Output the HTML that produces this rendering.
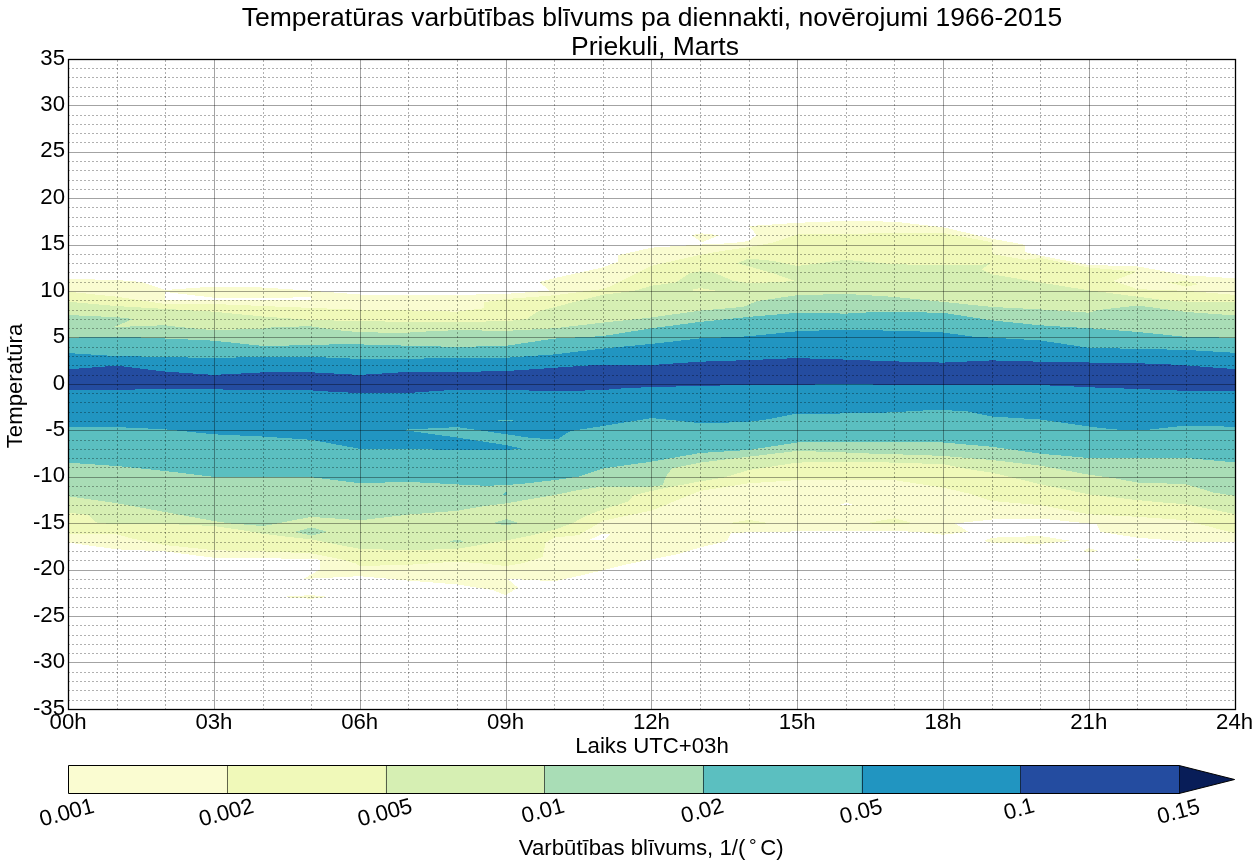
<!DOCTYPE html>
<html lang="lv">
<head>
<meta charset="utf-8">
<title>Temperatūras varbūtības blīvums pa diennakti</title>
<style>
html,body{margin:0;padding:0;background:#fff;}
body{width:1260px;height:868px;overflow:hidden;font-family:"Liberation Sans",sans-serif;}
svg{display:block;will-change:transform;}
text{font-family:"Liberation Sans",sans-serif;fill:#000;}
.ttl{font-size:26.5px;}
.tk{font-size:22.2px;}
.lab{font-size:22.2px;}
.cbt{font-size:22.2px;}
.maj{stroke:#000;stroke-opacity:0.36;stroke-width:1;}
.min{stroke:#000;stroke-opacity:0.31;stroke-width:1;stroke-dasharray:2 2;}
</style>
</head>
<body>
<svg width="1260" height="868" viewBox="0 0 1260 868">
<rect width="1260" height="868" fill="#ffffff"/>
<text x="652" y="26" text-anchor="middle" class="ttl">Temperatūras varbūtības blīvums pa diennakti, novērojumi 1966-2015</text>
<text x="655" y="54.5" text-anchor="middle" class="ttl">Priekuli, Marts</text>
<g shape-rendering="crispEdges">
<path d="M68.0 278.9 L116.7 280.0 L141.1 281.9 L165.3 290.0 L213.9 286.5 L262.5 287.5 L311.1 290.7 L359.7 294.5 L408.3 294.5 L456.9 294.9 L505.5 293.9 L529.4 292.2 L549.4 290.6 L539.4 282.0 L554.1 278.2 L602.8 267.4 L618.0 261.7 L618.0 255.3 L651.4 247.7 L672.0 246.4 L700.0 244.6 L722.6 243.6 L743.2 242.0 L749.4 240.5 L756.5 235.2 L749.1 226.0 L797.2 222.8 L845.8 220.9 L894.4 221.7 L943.0 227.2 L991.6 238.6 L1024.9 244.8 L1024.9 252.0 L1040.2 255.6 L1088.8 265.0 L1137.4 266.3 L1186.0 275.3 L1235.5 278.3 L1235.5 541.9 L1186.0 541.5 L1137.4 537.7 L1100.2 531.9 L1096.8 524.3 L1088.8 523.5 L1040.2 518.5 L991.6 519.5 L955.3 523.5 L968.6 531.9 L943.0 534.7 L918.5 531.9 L894.4 531.0 L845.8 531.4 L797.2 531.4 L748.6 532.2 L731.0 533.5 L727.1 541.1 L700.0 547.5 L678.9 553.8 L651.4 559.5 L628.1 564.0 L602.8 570.3 L572.0 577.5 L554.1 581.3 L507.2 578.7 L518.0 587.6 L505.5 595.2 L493.3 590.2 L456.9 584.4 L408.3 580.6 L381.2 578.1 L359.7 576.2 L303.5 579.0 L320.2 569.2 L320.2 559.7 L311.1 559.0 L262.5 558.2 L213.9 557.8 L165.3 551.4 L116.7 549.3 L68.0 542.6Z" fill="#fafcd1"/>
<path d="M165.3 292.0 L213.9 297.7 L262.5 297.7 L311.1 297.4 L311.1 300.0 L262.5 300.0 L213.9 300.0 L165.3 300.0Z" fill="#ffffff"/>
<path d="M691.6 235.3 L700.6 233.3 L719.5 235.1 L701.9 242.3Z" fill="#fafcd1"/>
<path d="M590.0 539.6 L603.6 533.5 L611.0 533.5 L603.6 540.5Z" fill="#ffffff"/>
<path d="M839.6 504.3 L846.6 503.1 L852.5 504.3 L846.6 505.5Z" fill="#ffffff"/>
<path d="M983.7 541.1 L991.6 537.7 L1040.2 536.0 L1071.8 541.0 L1040.2 543.9 L991.6 542.7Z" fill="#fafcd1"/>
<path d="M280.1 596.9 L311.6 595.1 L328.5 596.9 L311.6 598.8Z" fill="#fafcd1"/>
<path d="M1082.6 551.1 L1088.8 548.2 L1099.3 551.1 L1088.8 552.2Z" fill="#fafcd1"/>
<path d="M1134.4 559.9 L1137.4 558.6 L1141.1 559.9 L1137.4 560.8Z" fill="#fafcd1"/>
<path d="M68.0 291.7 L116.7 296.7 L165.3 304.0 L213.9 304.0 L262.5 306.0 L311.1 307.9 L359.7 309.8 L408.3 310.4 L456.9 311.7 L483.9 308.3 L483.9 302.2 L505.5 299.1 L554.1 295.3 L602.8 289.0 L608.5 287.1 L651.4 265.8 L681.3 259.1 L700.0 254.9 L722.6 250.8 L748.6 247.2 L773.3 242.5 L797.2 234.5 L845.8 233.6 L894.4 233.4 L916.9 232.6 L943.0 232.9 L991.6 242.2 L991.6 245.8 L992.6 254.1 L1024.9 259.7 L1040.2 258.0 L1088.8 267.5 L1137.4 271.7 L1113.3 280.8 L1137.4 289.2 L1186.0 290.8 L1235.5 295.0 L1235.5 533.5 L1203.7 525.2 L1186.0 520.2 L1137.4 516.8 L1088.8 514.3 L1040.2 505.1 L991.6 501.0 L968.6 493.5 L943.0 487.6 L894.4 480.1 L845.8 480.1 L797.2 480.1 L748.6 483.3 L700.0 491.0 L651.4 510.6 L602.8 520.8 L578.6 535.2 L554.1 537.5 L545.3 543.2 L542.8 557.1 L521.2 563.5 L505.5 566.0 L483.1 563.5 L456.9 561.6 L408.3 564.8 L359.7 566.0 L355.8 563.5 L343.1 559.7 L311.1 553.3 L262.5 551.4 L213.9 550.2 L165.3 545.1 L132.2 538.5 L116.7 534.4 L68.0 533.9Z" fill="#f0f9b9"/>
<path d="M1168.3 282.5 L1185.8 280.8 L1198.3 284.2 L1185.8 286.7Z" fill="#f0f9b9"/>
<path d="M726.9 523.4 L749.4 519.9 L770.3 523.4 L749.4 523.9Z" fill="#f0f9b9"/>
<path d="M865.1 523.4 L894.6 518.2 L913.5 523.4 L894.6 523.9Z" fill="#f0f9b9"/>
<path d="M68.0 301.7 L116.7 306.1 L165.3 308.9 L213.9 311.7 L262.5 316.5 L311.1 319.9 L359.7 321.2 L408.3 321.8 L456.9 321.8 L505.5 321.3 L527.2 318.9 L537.2 311.7 L554.1 307.2 L602.8 294.7 L633.9 290.9 L651.4 285.8 L676.1 282.3 L689.5 273.5 L700.0 271.4 L712.2 272.0 L732.9 280.7 L748.6 283.3 L773.6 282.2 L795.4 281.0 L773.6 273.5 L748.6 266.3 L737.0 263.2 L748.6 258.5 L773.6 261.0 L797.2 266.0 L845.8 259.8 L894.4 264.3 L943.0 265.1 L980.3 265.1 L991.2 262.6 L982.0 269.3 L991.6 274.3 L1040.2 282.5 L1088.8 290.3 L1137.4 296.7 L1163.3 300.0 L1186.0 301.7 L1235.5 301.7 L1235.5 514.3 L1186.0 504.3 L1163.6 502.6 L1137.4 500.1 L1088.8 494.3 L1040.2 484.2 L991.6 472.6 L968.6 469.2 L943.0 464.2 L894.4 462.6 L845.8 461.7 L797.2 462.6 L748.6 470.1 L723.5 477.6 L700.0 481.4 L666.2 487.8 L651.4 491.0 L633.2 495.4 L631.9 497.3 L628.1 501.7 L602.8 509.4 L584.7 516.5 L572.0 523.5 L554.1 529.8 L533.9 534.9 L505.5 540.6 L483.1 544.4 L456.9 548.9 L408.3 550.2 L359.7 548.9 L330.4 543.2 L311.1 539.4 L287.0 536.8 L262.5 533.7 L236.2 529.2 L213.9 526.0 L165.3 523.9 L116.7 524.1 L97.2 523.0 L87.9 514.8 L68.0 512.7Z" fill="#d6efb3"/>
<path d="M689.5 290.2 L700.6 288.0 L717.4 291.0 L700.6 291.3Z" fill="#f0f9b9"/>
<path d="M68.0 315.0 L116.7 317.2 L133.3 318.9 L113.3 327.2 L116.7 327.0 L165.3 325.2 L172.7 326.3 L204.4 329.4 L213.9 330.1 L262.5 328.8 L274.3 326.9 L311.1 326.3 L336.7 330.1 L359.7 332.2 L408.3 333.0 L410.4 332.2 L456.9 330.1 L505.5 330.9 L554.1 328.3 L602.8 322.6 L651.4 317.5 L700.0 310.6 L743.6 306.9 L756.9 301.1 L797.2 295.2 L845.8 293.9 L894.4 296.9 L943.0 301.9 L991.6 306.9 L1040.2 309.4 L1088.8 312.7 L1096.8 310.2 L1137.4 305.5 L1186.0 311.9 L1235.5 315.5 L1235.5 495.9 L1213.8 492.6 L1186.0 484.2 L1163.6 483.4 L1137.4 482.6 L1113.5 478.1 L1088.8 474.7 L1040.2 465.6 L991.6 460.0 L943.0 455.9 L894.4 454.2 L865.1 453.4 L845.8 452.5 L797.2 450.9 L748.6 456.7 L700.0 462.6 L671.7 468.4 L666.2 476.3 L662.4 485.2 L651.4 486.8 L602.8 486.5 L578.6 490.0 L554.1 495.1 L505.5 503.4 L483.1 506.3 L456.9 510.8 L408.3 514.6 L381.2 517.8 L359.7 520.3 L343.1 519.0 L311.1 516.9 L293.3 520.3 L274.3 524.1 L262.5 526.0 L231.1 523.5 L213.9 521.0 L165.3 512.1 L116.7 503.2 L68.0 496.2Z" fill="#a9ddb6"/>
<path d="M294.8 531.8 L311.6 527.4 L327.2 531.8 L311.6 535.6Z" fill="#a9ddb6"/>
<path d="M448.8 541.3 L457.4 539.6 L464.0 541.3 L457.4 542.8Z" fill="#a9ddb6"/>
<path d="M493.3 523.1 L506.6 519.0 L518.7 523.1 L506.6 525.4Z" fill="#a9ddb6"/>
<path d="M502.6 494.9 L506.5 491.6 L507.1 494.9Z" fill="#5bbfc0"/>
<path d="M68.0 337.8 L116.7 336.5 L165.3 338.5 L213.9 340.7 L262.5 345.9 L311.1 345.2 L341.9 344.0 L359.7 344.4 L408.3 345.7 L456.9 346.9 L505.5 345.9 L554.1 338.6 L602.8 336.1 L651.4 328.3 L700.0 321.9 L748.6 316.9 L797.2 312.8 L845.8 313.6 L876.8 311.9 L894.4 311.9 L943.0 312.8 L991.6 320.3 L1040.2 325.3 L1088.8 328.2 L1137.4 331.9 L1186.0 336.9 L1235.5 337.8 L1235.5 462.5 L1186.0 458.0 L1137.4 458.0 L1088.8 458.0 L1040.2 453.7 L991.6 446.7 L943.0 442.5 L894.4 441.7 L845.8 441.7 L797.2 442.5 L748.6 450.0 L700.0 453.0 L651.4 461.7 L602.8 468.5 L578.6 476.6 L554.1 480.2 L516.8 484.4 L505.5 484.7 L488.4 485.9 L456.9 484.4 L408.3 481.9 L359.7 483.2 L311.1 477.2 L262.5 477.2 L213.9 476.9 L165.3 471.0 L116.7 466.0 L68.0 462.7Z" fill="#5bbfc0"/>
<path d="M68.0 353.1 L116.7 356.1 L165.3 356.9 L213.9 358.2 L262.5 356.7 L311.1 356.9 L359.7 358.9 L408.3 358.9 L456.9 357.7 L505.5 357.8 L554.1 354.4 L602.8 348.6 L651.4 343.9 L700.0 338.4 L748.6 336.3 L797.2 331.3 L845.8 329.5 L894.4 330.8 L926.9 331.7 L943.0 332.5 L973.7 336.7 L991.6 337.7 L1040.2 340.4 L1088.8 347.8 L1137.4 348.9 L1186.0 349.9 L1235.5 352.8 L1235.5 426.8 L1186.0 425.5 L1146.9 429.9 L1137.4 430.2 L1113.5 429.4 L1088.8 426.5 L1040.2 419.5 L991.6 416.5 L965.3 411.0 L943.0 410.2 L928.6 410.2 L894.4 412.2 L865.1 413.5 L845.8 413.2 L823.8 414.4 L797.2 413.5 L767.0 419.4 L748.6 421.9 L723.5 422.7 L700.0 423.2 L673.4 420.2 L651.4 418.1 L603.7 425.9 L570.3 431.0 L558.6 438.5 L554.8 439.6 L528.5 437.6 L506.5 434.3 L478.4 430.1 L457.5 427.1 L401.2 429.8 L433.8 434.3 L457.5 437.6 L506.5 445.2 L521.0 448.5 L505.5 450.2 L456.9 450.2 L408.3 448.8 L359.7 448.8 L311.1 439.8 L262.5 436.5 L213.9 434.3 L165.3 429.3 L116.7 427.1 L68.0 426.8Z" fill="#2195c1"/>
<path d="M496.8 420.6 L506.5 419.8 L513.5 420.6 L506.5 421.4Z" fill="#5bbfc0"/>
<path d="M68.0 369.4 L116.7 365.6 L165.3 371.6 L213.9 374.9 L262.5 372.4 L311.1 372.3 L359.7 374.9 L408.3 371.9 L456.9 371.9 L505.5 371.1 L554.1 367.8 L602.8 364.5 L651.4 365.0 L700.0 361.7 L748.6 360.1 L797.2 358.1 L845.8 359.6 L894.4 361.4 L943.0 362.6 L991.6 360.4 L1040.2 361.7 L1088.8 362.5 L1137.4 363.4 L1157.0 363.7 L1186.0 365.4 L1235.5 369.2 L1235.5 390.6 L1186.0 390.6 L1167.0 390.4 L1137.4 388.8 L1105.2 388.1 L1088.8 387.1 L1058.4 385.9 L1040.2 385.0 L991.6 384.5 L943.0 384.5 L894.4 384.5 L873.4 384.5 L845.8 383.5 L797.2 385.1 L748.6 384.8 L700.0 386.0 L651.4 387.0 L622.1 388.4 L602.8 390.0 L554.1 391.4 L505.5 389.7 L456.9 389.7 L437.5 390.9 L408.3 393.0 L359.7 393.0 L335.4 392.0 L311.1 390.4 L262.5 390.4 L247.9 390.4 L213.9 389.2 L165.3 389.2 L116.7 389.7 L68.0 390.4Z" fill="#244ca0"/>
</g>
<g fill="none" shape-rendering="crispEdges">
<line x1="68.0" x2="1235.5" y1="700.5" y2="700.5" class="min"/>
<line x1="68.0" x2="1235.5" y1="690.5" y2="690.5" class="min"/>
<line x1="68.0" x2="1235.5" y1="681.5" y2="681.5" class="min"/>
<line x1="68.0" x2="1235.5" y1="672.5" y2="672.5" class="min"/>
<line x1="68.0" x2="1235.5" y1="662.5" y2="662.5" class="maj"/>
<line x1="68.0" x2="1235.5" y1="653.5" y2="653.5" class="min"/>
<line x1="68.0" x2="1235.5" y1="644.5" y2="644.5" class="min"/>
<line x1="68.0" x2="1235.5" y1="635.5" y2="635.5" class="min"/>
<line x1="68.0" x2="1235.5" y1="625.5" y2="625.5" class="min"/>
<line x1="68.0" x2="1235.5" y1="616.5" y2="616.5" class="maj"/>
<line x1="68.0" x2="1235.5" y1="607.5" y2="607.5" class="min"/>
<line x1="68.0" x2="1235.5" y1="597.5" y2="597.5" class="min"/>
<line x1="68.0" x2="1235.5" y1="588.5" y2="588.5" class="min"/>
<line x1="68.0" x2="1235.5" y1="579.5" y2="579.5" class="min"/>
<line x1="68.0" x2="1235.5" y1="570.5" y2="570.5" class="maj"/>
<line x1="68.0" x2="1235.5" y1="560.5" y2="560.5" class="min"/>
<line x1="68.0" x2="1235.5" y1="551.5" y2="551.5" class="min"/>
<line x1="68.0" x2="1235.5" y1="542.5" y2="542.5" class="min"/>
<line x1="68.0" x2="1235.5" y1="532.5" y2="532.5" class="min"/>
<line x1="68.0" x2="1235.5" y1="523.5" y2="523.5" class="maj"/>
<line x1="68.0" x2="1235.5" y1="514.5" y2="514.5" class="min"/>
<line x1="68.0" x2="1235.5" y1="505.5" y2="505.5" class="min"/>
<line x1="68.0" x2="1235.5" y1="495.5" y2="495.5" class="min"/>
<line x1="68.0" x2="1235.5" y1="486.5" y2="486.5" class="min"/>
<line x1="68.0" x2="1235.5" y1="477.5" y2="477.5" class="maj"/>
<line x1="68.0" x2="1235.5" y1="467.5" y2="467.5" class="min"/>
<line x1="68.0" x2="1235.5" y1="458.5" y2="458.5" class="min"/>
<line x1="68.0" x2="1235.5" y1="449.5" y2="449.5" class="min"/>
<line x1="68.0" x2="1235.5" y1="440.5" y2="440.5" class="min"/>
<line x1="68.0" x2="1235.5" y1="430.5" y2="430.5" class="maj"/>
<line x1="68.0" x2="1235.5" y1="421.5" y2="421.5" class="min"/>
<line x1="68.0" x2="1235.5" y1="412.5" y2="412.5" class="min"/>
<line x1="68.0" x2="1235.5" y1="402.5" y2="402.5" class="min"/>
<line x1="68.0" x2="1235.5" y1="393.5" y2="393.5" class="min"/>
<line x1="68.0" x2="1235.5" y1="384.5" y2="384.5" class="maj"/>
<line x1="68.0" x2="1235.5" y1="375.5" y2="375.5" class="min"/>
<line x1="68.0" x2="1235.5" y1="365.5" y2="365.5" class="min"/>
<line x1="68.0" x2="1235.5" y1="356.5" y2="356.5" class="min"/>
<line x1="68.0" x2="1235.5" y1="347.5" y2="347.5" class="min"/>
<line x1="68.0" x2="1235.5" y1="337.5" y2="337.5" class="maj"/>
<line x1="68.0" x2="1235.5" y1="328.5" y2="328.5" class="min"/>
<line x1="68.0" x2="1235.5" y1="319.5" y2="319.5" class="min"/>
<line x1="68.0" x2="1235.5" y1="310.5" y2="310.5" class="min"/>
<line x1="68.0" x2="1235.5" y1="300.5" y2="300.5" class="min"/>
<line x1="68.0" x2="1235.5" y1="291.5" y2="291.5" class="maj"/>
<line x1="68.0" x2="1235.5" y1="282.5" y2="282.5" class="min"/>
<line x1="68.0" x2="1235.5" y1="272.5" y2="272.5" class="min"/>
<line x1="68.0" x2="1235.5" y1="263.5" y2="263.5" class="min"/>
<line x1="68.0" x2="1235.5" y1="254.5" y2="254.5" class="min"/>
<line x1="68.0" x2="1235.5" y1="245.5" y2="245.5" class="maj"/>
<line x1="68.0" x2="1235.5" y1="235.5" y2="235.5" class="min"/>
<line x1="68.0" x2="1235.5" y1="226.5" y2="226.5" class="min"/>
<line x1="68.0" x2="1235.5" y1="217.5" y2="217.5" class="min"/>
<line x1="68.0" x2="1235.5" y1="207.5" y2="207.5" class="min"/>
<line x1="68.0" x2="1235.5" y1="198.5" y2="198.5" class="maj"/>
<line x1="68.0" x2="1235.5" y1="189.5" y2="189.5" class="min"/>
<line x1="68.0" x2="1235.5" y1="180.5" y2="180.5" class="min"/>
<line x1="68.0" x2="1235.5" y1="170.5" y2="170.5" class="min"/>
<line x1="68.0" x2="1235.5" y1="161.5" y2="161.5" class="min"/>
<line x1="68.0" x2="1235.5" y1="152.5" y2="152.5" class="maj"/>
<line x1="68.0" x2="1235.5" y1="142.5" y2="142.5" class="min"/>
<line x1="68.0" x2="1235.5" y1="133.5" y2="133.5" class="min"/>
<line x1="68.0" x2="1235.5" y1="124.5" y2="124.5" class="min"/>
<line x1="68.0" x2="1235.5" y1="115.5" y2="115.5" class="min"/>
<line x1="68.0" x2="1235.5" y1="105.5" y2="105.5" class="maj"/>
<line x1="68.0" x2="1235.5" y1="96.5" y2="96.5" class="min"/>
<line x1="68.0" x2="1235.5" y1="87.5" y2="87.5" class="min"/>
<line x1="68.0" x2="1235.5" y1="77.5" y2="77.5" class="min"/>
<line x1="68.0" x2="1235.5" y1="68.5" y2="68.5" class="min"/>
<line x1="117.5" x2="117.5" y1="710.0" y2="59.5" class="min"/>
<line x1="165.5" x2="165.5" y1="710.0" y2="59.5" class="min"/>
<line x1="214.5" x2="214.5" y1="710.0" y2="59.5" class="maj"/>
<line x1="263.5" x2="263.5" y1="710.0" y2="59.5" class="min"/>
<line x1="311.5" x2="311.5" y1="710.0" y2="59.5" class="min"/>
<line x1="360.5" x2="360.5" y1="710.0" y2="59.5" class="maj"/>
<line x1="408.5" x2="408.5" y1="710.0" y2="59.5" class="min"/>
<line x1="457.5" x2="457.5" y1="710.0" y2="59.5" class="min"/>
<line x1="506.5" x2="506.5" y1="710.0" y2="59.5" class="maj"/>
<line x1="554.5" x2="554.5" y1="710.0" y2="59.5" class="min"/>
<line x1="603.5" x2="603.5" y1="710.0" y2="59.5" class="min"/>
<line x1="651.5" x2="651.5" y1="710.0" y2="59.5" class="maj"/>
<line x1="700.5" x2="700.5" y1="710.0" y2="59.5" class="min"/>
<line x1="749.5" x2="749.5" y1="710.0" y2="59.5" class="min"/>
<line x1="797.5" x2="797.5" y1="710.0" y2="59.5" class="maj"/>
<line x1="846.5" x2="846.5" y1="710.0" y2="59.5" class="min"/>
<line x1="894.5" x2="894.5" y1="710.0" y2="59.5" class="min"/>
<line x1="943.5" x2="943.5" y1="710.0" y2="59.5" class="maj"/>
<line x1="992.5" x2="992.5" y1="710.0" y2="59.5" class="min"/>
<line x1="1040.5" x2="1040.5" y1="710.0" y2="59.5" class="min"/>
<line x1="1089.5" x2="1089.5" y1="710.0" y2="59.5" class="maj"/>
<line x1="1137.5" x2="1137.5" y1="710.0" y2="59.5" class="min"/>
<line x1="1186.5" x2="1186.5" y1="710.0" y2="59.5" class="min"/>
</g>
<g fill="none">

</g>
<rect x="68.5" y="59.5" width="1167.0" height="650.0" fill="none" stroke="#000" stroke-width="1.3"/>
<text x="65" y="714.5" text-anchor="end" class="tk">-35</text>
<text x="65" y="668.1" text-anchor="end" class="tk">-30</text>
<text x="65" y="621.6" text-anchor="end" class="tk">-25</text>
<text x="65" y="575.2" text-anchor="end" class="tk">-20</text>
<text x="65" y="528.8" text-anchor="end" class="tk">-15</text>
<text x="65" y="482.4" text-anchor="end" class="tk">-10</text>
<text x="65" y="435.9" text-anchor="end" class="tk">-5</text>
<text x="65" y="389.5" text-anchor="end" class="tk">0</text>
<text x="65" y="343.1" text-anchor="end" class="tk">5</text>
<text x="65" y="296.6" text-anchor="end" class="tk">10</text>
<text x="65" y="250.2" text-anchor="end" class="tk">15</text>
<text x="65" y="203.8" text-anchor="end" class="tk">20</text>
<text x="65" y="157.4" text-anchor="end" class="tk">25</text>
<text x="65" y="110.9" text-anchor="end" class="tk">30</text>
<text x="65" y="64.5" text-anchor="end" class="tk">35</text>
<text x="68.1" y="729.3" text-anchor="middle" class="tk">00h</text>
<text x="213.9" y="729.3" text-anchor="middle" class="tk">03h</text>
<text x="359.7" y="729.3" text-anchor="middle" class="tk">06h</text>
<text x="505.5" y="729.3" text-anchor="middle" class="tk">09h</text>
<text x="651.4" y="729.3" text-anchor="middle" class="tk">12h</text>
<text x="797.2" y="729.3" text-anchor="middle" class="tk">15h</text>
<text x="943.0" y="729.3" text-anchor="middle" class="tk">18h</text>
<text x="1088.8" y="729.3" text-anchor="middle" class="tk">21h</text>
<text x="1234.6" y="729.3" text-anchor="middle" class="tk">24h</text>
<text transform="translate(22.0 386) rotate(-90)" text-anchor="middle" class="lab">Temperatūra</text>
<text x="652" y="753.3" text-anchor="middle" class="lab">Laiks UTC+03h</text>
<rect x="68.10" y="765.5" width="159.21" height="28.0" fill="#fafcd1"/>
<rect x="226.81" y="765.5" width="159.21" height="28.0" fill="#f0f9b9"/>
<rect x="385.51" y="765.5" width="159.21" height="28.0" fill="#d6efb3"/>
<rect x="544.22" y="765.5" width="159.21" height="28.0" fill="#a9ddb6"/>
<rect x="702.93" y="765.5" width="159.21" height="28.0" fill="#5bbfc0"/>
<rect x="861.64" y="765.5" width="159.21" height="28.0" fill="#2195c1"/>
<rect x="1020.34" y="765.5" width="159.21" height="28.0" fill="#244ca0"/>
<path d="M1179.05 765.5 L1234.6 779.5 L1179.05 793.5 Z" fill="#081d58"/>
<line x1="227.50" x2="227.50" y1="765.5" y2="793.5" stroke="#000" stroke-width="1" stroke-opacity="0.6" shape-rendering="crispEdges"/>
<line x1="386.50" x2="386.50" y1="765.5" y2="793.5" stroke="#000" stroke-width="1" stroke-opacity="0.6" shape-rendering="crispEdges"/>
<line x1="544.50" x2="544.50" y1="765.5" y2="793.5" stroke="#000" stroke-width="1" stroke-opacity="0.6" shape-rendering="crispEdges"/>
<line x1="703.50" x2="703.50" y1="765.5" y2="793.5" stroke="#000" stroke-width="1" stroke-opacity="0.6" shape-rendering="crispEdges"/>
<line x1="862.50" x2="862.50" y1="765.5" y2="793.5" stroke="#000" stroke-width="1" stroke-opacity="0.6" shape-rendering="crispEdges"/>
<line x1="1020.50" x2="1020.50" y1="765.5" y2="793.5" stroke="#000" stroke-width="1" stroke-opacity="0.6" shape-rendering="crispEdges"/>
<line x1="1179.50" x2="1179.50" y1="765.5" y2="793.5" stroke="#000" stroke-width="1" stroke-opacity="0.6" shape-rendering="crispEdges"/>
<path d="M68.5 765.5 L1179.05 765.5 L1234.6 779.5 L1179.05 793.5 L68.5 793.5 Z" fill="none" stroke="#000" stroke-width="1"/>
<text transform="translate(68.6 819.4) rotate(-15)" text-anchor="middle" class="cbt">0.001</text>
<text transform="translate(228.0 819.4) rotate(-15)" text-anchor="middle" class="cbt">0.002</text>
<text transform="translate(386.7 819.4) rotate(-15)" text-anchor="middle" class="cbt">0.005</text>
<text transform="translate(544.7 817.7) rotate(-15)" text-anchor="middle" class="cbt">0.01</text>
<text transform="translate(704.1 817.7) rotate(-15)" text-anchor="middle" class="cbt">0.02</text>
<text transform="translate(862.8 818.4) rotate(-15)" text-anchor="middle" class="cbt">0.05</text>
<text transform="translate(1020.8 815.9) rotate(-15)" text-anchor="middle" class="cbt">0.1</text>
<text transform="translate(1180.3 818.4) rotate(-15)" text-anchor="middle" class="cbt">0.15</text>
<text x="651.2" y="854.6" text-anchor="middle" class="lab">Varbūtības blīvums, 1/(<tspan font-size="19" dx="3.6" dy="-3.1">°</tspan><tspan dx="3.6" dy="3.1">C)</tspan></text>
</svg>
</body>
</html>
